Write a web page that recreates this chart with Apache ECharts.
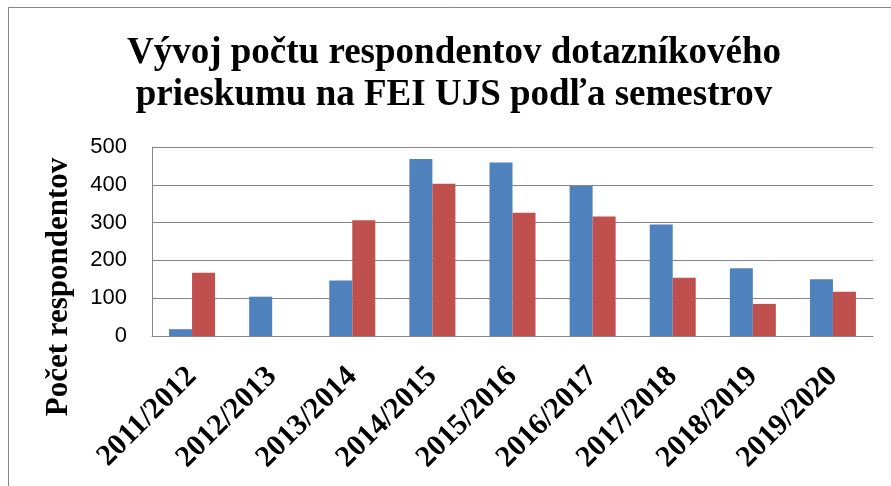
<!DOCTYPE html>
<html>
<head>
<meta charset="utf-8">
<script src="https://cdn.jsdelivr.net/npm/echarts@6/dist/echarts.min.js"></script>
<style>
  html, body { margin: 0; padding: 0; background: #fff; }
  #chart { width: 891px; height: 486px; }
</style>
</head>
<body>
<div id="chart"></div>
<script>
// school years on the x axis
var years = ['2011/2012', '2012/2013', '2013/2014', '2014/2015', '2015/2016',
             '2016/2017', '2017/2018', '2018/2019', '2019/2020'];
// two semesters per year
var winter = [18, 104, 147, 468, 459, 397, 295, 179, 150];
var summer = [167, 0, 306, 403, 326, 316, 154, 85, 117];
var yTicks = [0, 100, 200, 300, 400, 500];

var serif = '"Liberation Serif", "Times New Roman", serif';
var sans = '"Liberation Sans", Arial, sans-serif';

function barSeries(name, data, color) {
  return {
    name: name,
    type: 'bar',
    data: data,
    barWidth: 23,
    barGap: '0%',
    itemStyle: { color: color },
    silent: true
  };
}

var chart = echarts.init(document.getElementById('chart'));
var option = {
  animation: false,
  grid: { left: 152, right: 18, top: 147, bottom: 150 },
  xAxis: {
    type: 'category',
    data: years,
    axisLine: { lineStyle: { color: '#868686', width: 1 } },
    axisTick: { show: false },
    axisLabel: {
      interval: 0,
      rotate: 45,
      margin: 36,
      fontFamily: serif,
      fontWeight: 'bold',
      fontSize: 30,
      color: '#000'
    }
  },
  yAxis: {
    type: 'value',
    min: yTicks[0],
    max: yTicks[yTicks.length - 1],
    interval: 100,
    axisLine: { show: true, lineStyle: { color: '#868686', width: 1 } },
    axisTick: { show: false },
    splitLine: { lineStyle: { color: '#868686', width: 1 } },
    axisLabel: {
      margin: 25,
      fontFamily: sans,
      fontSize: 22,
      color: '#000'
    }
  },
  graphic: [
    {
      type: 'rect',
      silent: true,
      shape: { x: 8.5, y: 7.5, width: 900, height: 500 },
      style: { fill: 'none', stroke: '#868686', lineWidth: 1 }
    },
    {
      type: 'text',
      silent: true,
      x: 454,
      y: 74,
      style: {
        text: 'Vývoj počtu respondentov dotazníkového\nprieskumu na FEI UJS podľa semestrov',
        fontFamily: serif,
        fontWeight: 'bold',
        fontSize: 37,
        lineHeight: 42,
        fill: '#000',
        textAlign: 'center',
        textVerticalAlign: 'middle'
      }
    },
    {
      type: 'text',
      silent: true,
      x: 59,
      y: 287,
      rotation: Math.PI / 2,
      style: {
        text: 'Počet respondentov',
        fontFamily: serif,
        fontWeight: 'bold',
        fontSize: 31,
        fill: '#000',
        textAlign: 'center',
        textVerticalAlign: 'middle'
      }
    }
  ],
  series: [
    barSeries('zimný semester', winter, '#4F81BD'),
    barSeries('letný semester', summer, '#C0504D')
  ]
};
chart.setOption(option);
</script>
</body>
</html>
